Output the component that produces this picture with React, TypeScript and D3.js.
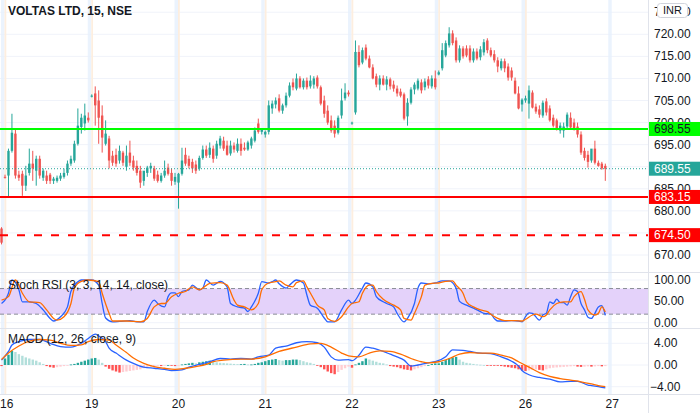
import * as d3 from "d3";

// time axis: one label per session, 25 fifteen-minute bars per session
const dayLabels = ["16", "19", "20", "21", "22", "23", "26", "27"];
const barsPerDay = 25;

// candles as [open, high, low, close]
const prevDayTail = [[676.0, 676.3, 672.4, 672.8]];

const day16 = [
  [687.7, 688.2, 687.3, 687.6], [688.0, 694.1, 683.2, 693.6], [693.6, 702.0, 693.2, 697.7],
  [697.5, 698.6, 687.3, 688.0], [688.2, 689.1, 686.8, 687.5], [688.4, 689.1, 683.4, 685.7],
  [685.7, 690.2, 684.5, 688.0], [688.6, 694.1, 688.0, 690.7], [690.7, 693.6, 686.8, 689.6],
  [689.1, 692.5, 685.7, 691.8], [691.8, 692.5, 687.3, 688.0], [687.5, 689.6, 686.8, 689.1],
  [688.0, 689.1, 686.1, 686.8], [688.2, 688.6, 686.1, 686.8], [686.8, 687.7, 686.1, 687.3],
  [686.8, 688.0, 686.4, 687.5], [687.3, 688.6, 686.8, 688.0], [687.7, 689.6, 687.3, 688.6],
  [688.6, 691.4, 688.0, 690.7], [690.7, 692.5, 690.2, 691.8], [691.4, 695.9, 690.9, 695.2],
  [695.2, 703.2, 694.8, 699.3], [699.0, 702.0, 697.5, 701.1], [699.8, 704.3, 698.2, 701.6],
  [701.1, 702.3, 700.0, 700.5],
];

const day19 = [
  [706.0, 706.4, 705.7, 706.1], [706.6, 708.2, 699.3, 703.9], [705.0, 707.3, 695.2, 701.1],
  [701.6, 703.9, 693.2, 696.6], [695.2, 700.5, 694.8, 697.5], [696.4, 697.0, 689.6, 691.4],
  [692.5, 693.6, 690.2, 690.9], [692.7, 694.1, 690.0, 690.7], [691.4, 694.8, 690.7, 693.6],
  [693.2, 693.6, 690.2, 690.9], [690.0, 694.8, 689.1, 692.5], [693.2, 695.9, 690.2, 690.9],
  [691.4, 692.5, 689.1, 689.8], [690.2, 691.4, 688.0, 688.6], [689.1, 690.2, 685.2, 686.4],
  [686.8, 688.0, 685.7, 689.1], [688.6, 690.2, 687.7, 689.8], [689.6, 690.9, 688.6, 690.2],
  [689.6, 690.2, 686.8, 687.3], [688.2, 689.1, 686.4, 686.8], [686.8, 688.6, 686.4, 688.0],
  [688.0, 691.4, 687.5, 689.1], [689.8, 690.7, 688.0, 688.4], [688.6, 689.6, 685.7, 686.8],
  [686.6, 688.6, 685.9, 687.7],
];

const day20 = [
  [686.4, 688.6, 680.5, 688.4], [688.4, 694.3, 688.0, 691.4], [692.7, 694.3, 690.2, 690.7],
  [691.8, 692.5, 689.6, 690.2], [691.1, 691.8, 688.6, 689.6], [690.5, 691.4, 688.4, 689.1],
  [689.6, 692.5, 689.1, 692.0], [692.0, 694.8, 691.6, 693.9], [693.9, 694.8, 692.0, 692.5],
  [692.7, 695.5, 692.0, 694.3], [694.1, 694.8, 690.9, 691.8], [692.5, 695.9, 691.8, 695.2],
  [694.8, 697.0, 694.1, 696.4], [695.9, 696.8, 693.6, 694.1], [694.8, 695.9, 692.5, 692.7],
  [693.0, 695.9, 692.5, 694.8], [694.8, 695.5, 693.2, 693.9], [693.6, 696.4, 693.2, 695.2],
  [695.2, 696.4, 692.5, 693.6], [694.3, 695.5, 693.6, 693.9], [693.9, 695.9, 693.6, 695.5],
  [694.8, 696.8, 694.1, 696.4], [695.9, 698.9, 695.5, 698.2], [699.8, 700.9, 697.5, 697.9],
  [697.9, 698.6, 697.3, 698.4],
];

const day21 = [
  [697.3, 698.2, 696.6, 697.9], [697.9, 705.0, 697.3, 703.9], [703.2, 705.0, 702.0, 704.3],
  [704.1, 705.7, 703.2, 705.0], [705.5, 706.4, 702.3, 702.7], [702.7, 704.3, 702.0, 703.9],
  [703.9, 706.8, 703.4, 706.1], [706.1, 709.1, 705.7, 708.4], [709.1, 710.0, 707.3, 708.0],
  [707.7, 711.1, 707.3, 710.0], [710.0, 710.5, 707.7, 708.0], [708.0, 710.0, 707.5, 709.5],
  [709.5, 710.2, 707.5, 708.0], [708.2, 710.7, 707.7, 709.5], [708.6, 710.5, 707.7, 710.0],
  [710.2, 710.7, 707.7, 708.2], [708.0, 708.4, 703.9, 704.3], [705.0, 706.1, 701.1, 702.0],
  [702.7, 703.9, 699.5, 700.0], [700.5, 701.6, 697.7, 698.2], [699.3, 700.5, 696.6, 697.5],
  [697.7, 701.6, 697.3, 701.1], [701.6, 707.7, 700.9, 705.0], [705.5, 708.9, 705.0, 706.8],
  [706.8, 707.3, 705.9, 706.4],
];

const day22 = [
  [699.8, 700.2, 699.5, 700.0], [702.3, 718.6, 701.8, 716.0], [716.0, 717.5, 712.5, 713.0],
  [713.6, 717.0, 713.2, 716.4], [717.0, 717.7, 714.1, 714.5], [714.5, 715.2, 712.3, 712.5],
  [712.5, 713.2, 709.8, 710.0], [710.5, 711.1, 708.0, 708.6], [708.6, 710.7, 707.3, 710.0],
  [710.0, 710.7, 708.4, 708.6], [708.6, 710.5, 707.3, 709.8], [709.8, 710.2, 707.5, 708.2],
  [708.6, 709.5, 707.0, 707.7], [707.7, 708.4, 705.9, 706.6], [707.0, 707.7, 705.7, 706.1],
  [706.4, 706.8, 700.5, 700.9], [701.4, 705.5, 699.3, 704.5], [704.5, 708.0, 704.1, 707.5],
  [707.5, 709.1, 706.4, 708.6], [707.7, 710.0, 707.3, 709.5], [709.1, 709.8, 706.6, 707.3],
  [708.0, 710.0, 707.3, 709.3], [709.8, 710.5, 707.7, 708.4], [708.2, 710.7, 707.7, 710.0],
  [710.0, 711.8, 707.5, 708.0],
];

const day23 = [
  [710.9, 711.8, 710.7, 711.4], [712.3, 718.0, 711.8, 716.4], [715.2, 718.6, 714.8, 718.0],
  [717.5, 721.6, 717.0, 720.2], [720.2, 720.9, 717.5, 718.0], [718.6, 719.3, 713.6, 714.1],
  [714.1, 717.5, 713.6, 716.8], [716.8, 717.3, 714.5, 715.0], [716.8, 717.5, 714.8, 715.2],
  [716.8, 717.5, 713.6, 714.1], [714.1, 716.8, 713.6, 716.1], [716.1, 716.8, 714.1, 714.5],
  [714.8, 717.3, 714.1, 716.6], [715.9, 718.9, 715.2, 718.2], [718.6, 719.1, 715.7, 716.4],
  [716.4, 717.0, 714.8, 715.2], [715.5, 716.4, 713.6, 714.1], [714.1, 714.8, 711.4, 712.7],
  [712.3, 714.5, 711.8, 713.9], [713.9, 714.5, 711.4, 712.3], [712.7, 713.4, 709.5, 710.2],
  [711.8, 712.5, 709.5, 710.2], [709.5, 710.2, 706.4, 706.6], [706.6, 708.2, 703.0, 703.2],
  [704.1, 705.5, 702.5, 705.2],
];

const day26 = [
  [705.0, 706.1, 704.5, 705.5], [704.3, 708.4, 700.9, 707.3], [706.8, 707.3, 703.2, 703.4],
  [703.6, 704.3, 702.0, 702.5], [703.0, 703.9, 701.1, 701.8], [701.6, 705.0, 701.1, 704.5],
  [704.8, 705.5, 701.6, 702.3], [703.2, 703.9, 700.2, 700.5], [701.1, 701.8, 698.9, 699.3],
  [700.5, 700.9, 698.2, 698.6], [698.2, 700.0, 697.5, 699.3], [698.2, 700.0, 696.6, 699.1],
  [699.1, 702.3, 698.4, 701.8], [701.1, 702.3, 698.4, 698.9], [700.0, 700.9, 698.2, 698.6],
  [699.1, 700.0, 696.6, 697.3], [697.3, 698.0, 692.7, 693.2], [693.6, 694.3, 691.4, 692.0],
  [692.7, 693.6, 689.8, 691.1], [691.4, 693.6, 690.9, 694.1], [694.1, 695.9, 690.5, 690.9],
  [690.9, 691.4, 690.0, 690.2], [690.7, 691.1, 689.3, 689.6], [690.2, 690.7, 686.8, 689.55],
];

const days = [day16, day19, day20, day21, day22, day23, day26];

const priceTicks = [725, 720, 715, 710, 705, 700, 695, 690, 685, 680, 675, 670];
const stochTicks = [100, 50, 0];
const stochBand = [80, 20];
const macdTicks = [4, 0, -4];

const levels = [
  { value: 698.55, color: "#00ff00", text: "#131722", dashed: false },
  { value: 683.15, color: "#ff0000", text: "#ffffff", dashed: false },
  { value: 674.5, color: "#ff0000", text: "#ffffff", dashed: true },
];
const lastPrice = 689.55;

// Stoch RSI, [bar, value]
const stochK = [
  [-1, 45], [1, 69], [2, 100], [4, 77], [5, 49], [7, 49], [9, 45], [11, 30], [13, 10], [14, 4],
  [16, 14], [18, 37], [19, 73], [21, 96], [22, 100], [25, 100], [27, 88], [28, 45], [29, 11], [31, 2],
  [33, 3], [36, 5], [38, 2], [40, 2], [41, 26], [43, 53], [44, 45], [46, 37], [47, 61], [48, 70],
  [49, 70], [50, 61], [51, 73], [53, 77], [54, 88], [56, 77], [57, 81], [58, 100], [60, 88], [62, 97],
  [64, 84], [65, 45], [67, 37], [69, 34], [70, 26], [71, 37], [73, 69], [74, 96], [76, 93], [77, 96],
  [78, 100], [79, 91], [81, 81], [82, 88], [84, 100], [86, 93], [87, 65], [88, 41], [90, 34], [92, 11],
  [93, 2], [95, 2], [97, 30], [99, 53], [100, 45], [101, 53], [103, 81], [104, 93], [106, 84], [107, 61],
  [109, 49], [110, 45], [112, 37], [113, 22], [115, 2], [116, 10], [118, 45], [119, 81], [120, 93], [122, 91],
  [124, 93], [126, 98], [128, 98], [130, 81], [131, 50], [133, 41], [135, 34], [137, 26], [138, 22], [140, 20],
  [141, 10], [142, 4], [144, 4], [146, 5], [148, 4], [149, 2], [150, 14], [151, 23], [152, 22], [154, 6],
  [155, 18], [156, 22], [157, 49], [158, 45], [159, 55], [160, 47], [161, 47], [162, 41], [163, 61], [164, 77],
  [165, 73], [166, 45], [167, 30], [168, 13], [169, 10], [170, 22], [171, 37], [172, 40], [173, 17],
];

const stochD = [
  [-1, 53], [1, 61], [3, 100], [5, 69], [7, 49], [10, 47], [12, 30], [14, 10], [15, 6], [17, 14],
  [19, 45], [20, 81], [22, 97], [24, 100], [27, 96], [28, 69], [30, 22], [31, 4], [35, 4], [39, 2],
  [41, 10], [43, 37], [45, 45], [46, 45], [48, 61], [50, 69], [52, 73], [54, 84], [56, 77], [59, 92],
  [62, 94], [64, 88], [66, 53], [67, 41], [69, 37], [71, 30], [73, 45], [74, 77], [76, 93], [78, 96],
  [79, 98], [81, 88], [83, 84], [84, 94], [86, 98], [87, 84], [89, 55], [90, 41], [92, 30], [93, 10],
  [95, 3], [97, 14], [99, 37], [100, 45], [102, 49], [103, 69], [105, 88], [106, 88], [107, 73], [109, 55],
  [111, 45], [112, 41], [114, 30], [115, 10], [117, 6], [118, 22], [120, 61], [121, 88], [123, 92], [125, 93],
  [127, 97], [129, 98], [130, 88], [132, 69], [133, 49], [135, 37], [137, 30], [139, 26], [140, 20], [142, 10],
  [144, 5], [147, 5], [149, 4], [150, 8], [152, 18], [153, 20], [155, 14], [156, 18], [157, 30], [159, 45],
  [161, 49], [163, 49], [164, 61], [166, 73], [167, 55], [168, 30], [170, 18], [171, 22], [172, 37], [173, 25],
];

// MACD (12, 26, close, 9), [bar, value]
const macdLine = [
  [-1, 0.9], [1, 2.5], [2, 3.7], [4, 4.3], [7, 4.7], [10, 4.7], [13, 4.0], [16, 3.4], [19, 3.3], [22, 4.0],
  [24, 4.9], [26, 5.7], [27, 5.35], [29, 4.3], [30, 3.1], [32, 2.2], [35, 0.9], [37, 0.3], [40, -0.4], [43, -0.6],
  [46, -0.8], [48, -1.05], [51, -0.9], [53, -0.4], [56, 0.1], [59, 0.6], [62, 1.2], [65, 1.1], [68, 1.2], [71, 1.1],
  [73, 1.5], [76, 1.8], [78, 3.1], [81, 3.5], [84, 4.1], [87, 4.3], [90, 4.1], [92, 3.3], [94, 1.5], [96, 0.9],
  [99, 1.0], [100, 0.8], [102, 1.8], [104, 3.3], [106, 3.1], [109, 2.5], [111, 2.0], [113, 1.5], [115, 0.9], [117, -0.2],
  [119, 0.0], [122, 0.4], [124, 0.6], [127, 1.5], [129, 2.8], [132, 2.7], [134, 2.5], [137, 2.2], [140, 2.1], [143, 1.5],
  [146, 0.7], [148, -0.2], [149, -1.0], [151, -1.8], [154, -2.3], [157, -2.6], [160, -3.1], [163, -3.0], [165, -3.0], [168, -3.7],
  [169, -3.8], [171, -4.0], [173, -4.2],
];

const signalLine = [
  [-1, 1.0], [1, 2.2], [4, 3.5], [7, 4.4], [10, 4.7], [13, 4.6], [16, 4.0], [19, 3.6], [22, 3.7], [24, 4.3],
  [27, 4.7], [30, 4.6], [32, 3.7], [35, 2.3], [37, 1.3], [40, 0.3], [43, -0.3], [46, -0.6], [49, -0.8], [52, -0.6],
  [55, -0.3], [58, 0.1], [60, 0.6], [63, 0.9], [68, 1.1], [71, 1.1], [75, 1.5], [79, 2.5], [84, 3.3], [88, 3.9],
  [91, 4.0], [94, 3.3], [97, 2.2], [99, 1.7], [102, 1.5], [105, 2.2], [108, 2.6], [111, 2.5], [114, 2.0], [117, 1.2],
  [120, 0.6], [122, 0.4], [125, 0.6], [128, 1.2], [131, 2.0], [134, 2.3], [137, 2.2], [140, 2.2], [143, 1.8], [146, 1.3],
  [148, 0.6], [151, -0.4], [154, -1.4], [157, -2.1], [160, -2.5], [163, -2.8], [166, -3.1], [169, -3.5], [171, -3.8], [173, -4.0],
];

// histogram, one value per bar starting at bar -1
const histStart = -1;
const macdHist = [
  -0.2,
  1.2, 1.9, 2.6, 2.4, 2.0, 1.7, 1.4, 1.2, 1.0, 0.8,
  0.5, 0.2, -0.2, -0.4, -0.5, -0.4, -0.3, -0.2, -0.1, 0.1,
  0.2, 0.4, 0.6, 0.8, 1.0, 1.2, 1.3, 1.0, 0.4, -0.3,
  -0.7, -1.0, -1.2, -1.4, -1.3, -1.2, -1.1, -1.0, -0.9, -0.8,
  -0.6, -0.4, -0.3, -0.2, -0.1, -0.2, -0.1, 0.0, -0.1, -0.2,
  -0.1, 0.1, 0.2, 0.3, 0.4, 0.3, 0.5, 0.6, 0.7, 0.8,
  0.6, 0.5, 0.4, 0.35, 0.3, 0.25, 0.2, 0.15, 0.15, 0.2,
  0.1, 0.1, 0.2, 0.4, 0.5, 0.7, 0.9, 1.0, 1.1, 0.9,
  0.8, 0.9, 0.9, 1.0, 1.0, 0.9, 0.7, 0.5, 0.4, 0.2,
  -0.1, -0.4, -0.8, -1.2, -1.5, -1.7, -1.3, -0.9, -0.6, -0.3,
  -0.5, 0.1, 0.4, 0.7, 1.2, 1.0, 0.8, 0.6, 0.4, 0.3,
  0.1, -0.2, -0.3, -0.4, -0.6, -0.8, -0.9, -1.0, -0.8, -0.6,
  -0.4, -0.2, 0.0, 0.2, 0.3, 0.3, 0.6, 0.9, 1.2, 1.4,
  1.5, 1.0, 0.6, 0.4, 0.3, 0.2, 0.1, 0.05, 0.0, -0.05,
  -0.1, -0.1, -0.15, -0.2, -0.3, -0.4, -0.5, -0.6, -0.8, -1.0,
  -1.1, -1.0, -0.9, -0.8, -0.9, -1.0, -0.8, -0.6, -0.5, -0.45,
  -0.4, -0.35, -0.3, -0.25, -0.2, -0.3, -0.35, -0.3, -0.25, -0.3,
  -0.25, -0.2, -0.25, -0.2,
];

const UP = "#26a69a";
const DOWN = "#ef5350";
const BLUE = "#2962ff";
const ORANGE = "#ff6d00";
const TEXT = "#131722";
const GRID = "#f0f3fa";
const BORDER = "#e0e3eb";
const FONT = "'Liberation Sans', Arial, sans-serif";

export default function App() {
  const W = 700;
  const H = 413;
  const plotR = 648;
  const mainB = 272;
  const stochB = 328;
  const macdB = 394;

  const x = d3.scaleLinear().domain([0, 175]).range([5, 612.25]);
  const yP = d3.scaleLinear().domain([670, 720]).range([255, 34.3]);
  const yS = d3.scaleLinear().domain([0, 100]).range([322.7, 280]);
  const yM = d3.scaleLinear().domain([-4, 4]).range([386.7, 343.3]);

  const bars = [
    ...prevDayTail.map((b) => ({ i: -1, o: b[0], h: b[1], l: b[2], c: b[3] })),
    ...days.flatMap((day, d) =>
      day.map((b, j) => ({ i: d * barsPerDay + j, o: b[0], h: b[1], l: b[2], c: b[3] }))
    ),
  ];

  const stochPath = d3
    .line<number[]>()
    .x((d) => x(d[0]))
    .y((d) => yS(d[1]))
    .curve(d3.curveMonotoneX);
  const macdPath = d3
    .line<number[]>()
    .x((d) => x(d[0]))
    .y((d) => yM(d[1]))
    .curve(d3.curveMonotoneX);

  const hist = macdHist.map((v, k) => {
    const prev = k > 0 ? macdHist[k - 1] : v;
    let fill;
    if (v >= 0) fill = v >= prev ? UP : "#b2dfdb";
    else fill = v <= prev ? "#ff5252" : "#ffcdd2";
    return { i: histStart + k, v, fill };
  });

  const priceLabels = [...levels.map((l) => l.value), lastPrice];
  // tick labels that sit right under a price label box are hidden, as on the platform
  const visibleTicks = priceTicks.filter(
    (t) => !priceLabels.some((p) => Math.abs(yP(t) - yP(p)) < 5)
  );

  const bodyW = 2.4;

  return (
    <svg
      width={W}
      height={H}
      style={{ position: "absolute", left: 0, top: 0, background: "#fff" }}
      fontFamily={FONT}
    >
      <defs>
        <clipPath id="clipMain">
          <rect x={0} y={0} width={plotR} height={mainB} />
        </clipPath>
        <clipPath id="clipStoch">
          <rect x={0} y={mainB} width={plotR} height={stochB - mainB} />
        </clipPath>
        <clipPath id="clipMacd">
          <rect x={0} y={stochB} width={plotR} height={macdB - stochB} />
        </clipPath>
      </defs>
      <rect x={0} y={0} width={W} height={H} fill="#fff" />

      {/* horizontal grid */}
      {priceTicks.map((t) => (
        <line key={"gp" + t} x1={0} x2={plotR} y1={yP(t)} y2={yP(t)} stroke={GRID} />
      ))}
      {stochTicks.map((t) => (
        <line key={"gs" + t} x1={0} x2={plotR} y1={yS(t)} y2={yS(t)} stroke={GRID} />
      ))}
      {macdTicks.map((t) => (
        <line key={"gm" + t} x1={0} x2={plotR} y1={yM(t)} y2={yM(t)} stroke={GRID} />
      ))}

      {/* session separators */}
      {dayLabels.map((lab, d) => {
        const x0 = x(d * barsPerDay);
        return (
          <g key={"sep" + lab}>
            <rect x={x0 - 4} y={0} width={3.5} height={macdB} fill="#e6f0fc" opacity={0.8} />
            {d < days.length && (
              <rect x={x0 - 0.5} y={0} width={1.8} height={macdB} fill="#fdeedf" />
            )}
          </g>
        );
      })}

      {/* candles */}
      <g clipPath="url(#clipMain)">
        {bars.map((b) => {
          const col = b.c >= b.o ? UP : DOWN;
          const cx = x(b.i);
          const top = yP(Math.max(b.o, b.c));
          const bot = yP(Math.min(b.o, b.c));
          return (
            <g key={"c" + b.i}>
              <line x1={cx} x2={cx} y1={yP(b.h)} y2={yP(b.l)} stroke={col} strokeWidth={1} />
              <rect x={cx - bodyW / 2} y={top} width={bodyW} height={Math.max(1, bot - top)} fill={col} />
            </g>
          );
        })}

        {/* last price */}
        <line
          x1={0}
          x2={plotR}
          y1={yP(lastPrice)}
          y2={yP(lastPrice)}
          stroke={UP}
          strokeWidth={1}
          strokeDasharray="1,2"
        />

        {/* horizontal levels */}
        {levels.map((lv) => (
          <line
            key={"lv" + lv.value}
            x1={0}
            x2={plotR}
            y1={yP(lv.value)}
            y2={yP(lv.value)}
            stroke={lv.color}
            strokeWidth={2}
            strokeDasharray={lv.dashed ? "8,9" : undefined}
          />
        ))}
      </g>

      {/* Stoch RSI pane */}
      <g clipPath="url(#clipStoch)">
        <rect
          x={0}
          y={yS(stochBand[0])}
          width={plotR}
          height={yS(stochBand[1]) - yS(stochBand[0])}
          fill="#e4d2fa"
        />
        {stochBand.map((t) => (
          <line
            key={"sb" + t}
            x1={0}
            x2={plotR}
            y1={yS(t)}
            y2={yS(t)}
            stroke="#8a8d96"
            strokeDasharray="4,3"
          />
        ))}
        <path d={stochPath(stochK) ?? ""} fill="none" stroke={BLUE} strokeWidth={1.3} />
        <path d={stochPath(stochD) ?? ""} fill="none" stroke={ORANGE} strokeWidth={1.3} />
      </g>

      {/* MACD pane */}
      <g clipPath="url(#clipMacd)">
        {hist.map((h) => {
          const y0 = yM(0);
          const y1 = yM(h.v);
          return (
            <rect
              key={"h" + h.i}
              x={x(h.i) - bodyW / 2}
              y={Math.min(y0, y1)}
              width={bodyW}
              height={Math.max(0.8, Math.abs(y1 - y0))}
              fill={h.fill}
            />
          );
        })}
        <path d={macdPath(macdLine) ?? ""} fill="none" stroke={BLUE} strokeWidth={1.3} />
        <path d={macdPath(signalLine) ?? ""} fill="none" stroke={ORANGE} strokeWidth={1.3} />
      </g>

      {/* pane borders */}
      <line x1={0} x2={W} y1={mainB + 0.5} y2={mainB + 0.5} stroke={BORDER} />
      <line x1={0} x2={W} y1={stochB + 0.5} y2={stochB + 0.5} stroke={BORDER} />
      <line x1={0} x2={W} y1={macdB + 0.5} y2={macdB + 0.5} stroke={BORDER} />
      <line x1={plotR + 0.5} x2={plotR + 0.5} y1={0} y2={H} stroke={BORDER} />

      {/* titles */}
      <text x={8} y={14.5} fontSize={12} fontWeight="bold" fill={TEXT}>
        VOLTAS LTD, 15, NSE
      </text>
      <text x={8} y={288.5} fontSize={12} fill={TEXT}>
        Stoch RSI (3, 3, 14, 14, close)
      </text>
      <text x={8} y={342.5} fontSize={12} fill={TEXT}>
        MACD (12, 26, close, 9)
      </text>

      {/* price axis */}
      {visibleTicks.map((t) => (
        <text key={"tp" + t} x={654} y={yP(t) + 4} fontSize={12} fill={TEXT}>
          {t.toFixed(2)}
        </text>
      ))}
      {stochTicks.map((t) => (
        <text key={"ts" + t} x={654} y={yS(t) + 4} fontSize={12} fill={TEXT}>
          {t.toFixed(2)}
        </text>
      ))}
      {macdTicks.map((t) => (
        <text key={"tm" + t} x={t < 0 ? 650 : 654} y={yM(t) + 4} fontSize={12} fill={TEXT}>
          {(t < 0 ? "\u2212" + Math.abs(t).toFixed(2) : t.toFixed(2))}
        </text>
      ))}

      {/* level and last price labels */}
      {[...levels, { value: lastPrice, color: UP, text: "#ffffff", dashed: false }].map((lv) => (
        <g key={"lb" + lv.value}>
          <rect x={plotR + 1} y={yP(lv.value) - 7} width={W - plotR - 1} height={14} fill={lv.color} />
          <text x={654} y={yP(lv.value) + 4} fontSize={12} fill={lv.text}>
            {lv.value.toFixed(2)}
          </text>
        </g>
      ))}

      {/* currency button */}
      <rect x={657.5} y={3.5} width={30} height={14} rx={3} fill="#fff" stroke="#d1d4dc" />
      <text x={672.5} y={14} fontSize={11} textAnchor="middle" fill={TEXT}>
        INR
      </text>

      {/* time axis */}
      {dayLabels.map((lab, d) => (
        <text
          key={"tt" + lab}
          x={d === 0 ? 0 : x(d * barsPerDay)}
          y={408}
          fontSize={12}
          textAnchor={d === 0 ? "start" : "middle"}
          fill={TEXT}
        >
          {lab}
        </text>
      ))}
    </svg>
  );
}
